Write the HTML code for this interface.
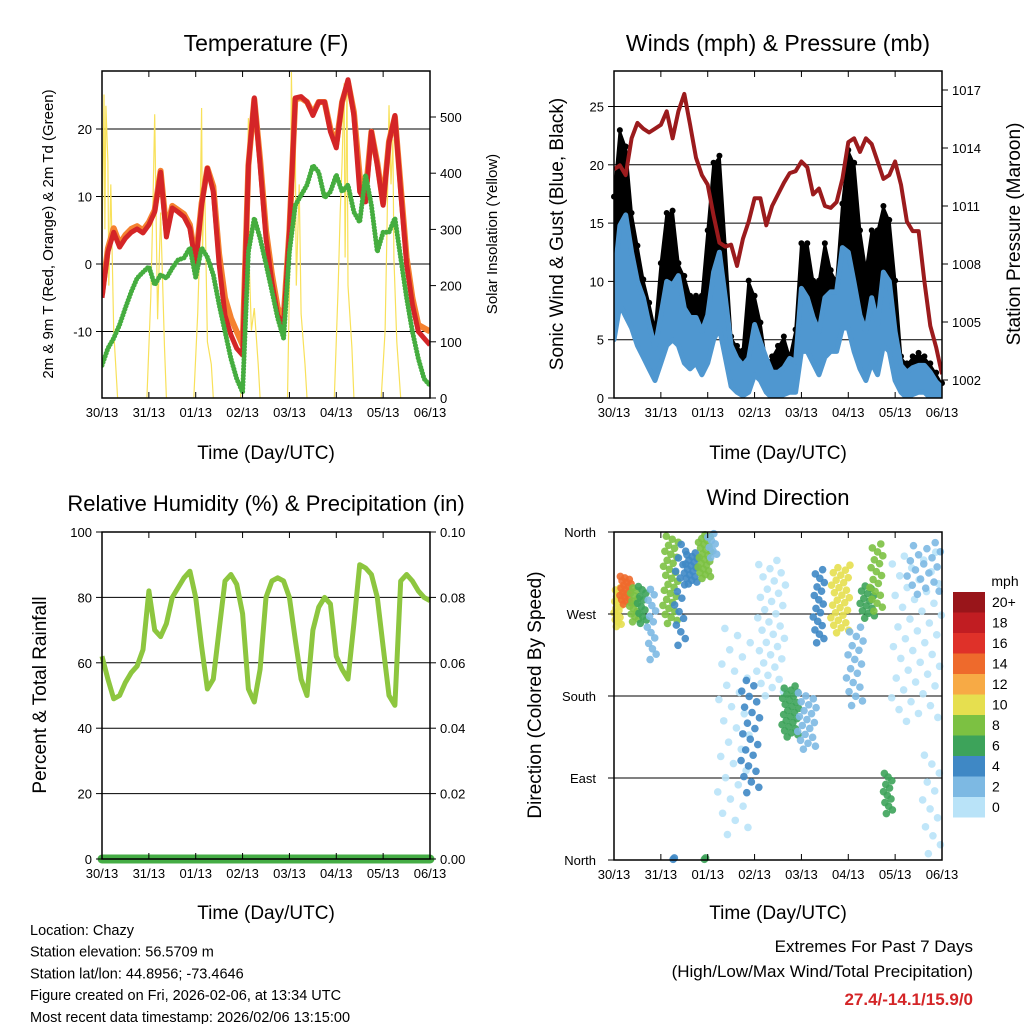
<!DOCTYPE html>
<html><head><meta charset="utf-8"><style>
html,body{margin:0;padding:0;background:#fff}
svg{display:block;font-family:"Liberation Sans",sans-serif}
</style></head><body>
<svg id="s" width="1024" height="1024" viewBox="0 0 1024 1024"></svg>
<script>
// ---------- DATA (hours since 30/13 UTC, 3-hour steps) ----------
const hours = [];for(let i=0;i<=56;i++)hours.push(i*3);
const dayLabels = ["30/13","31/13","01/13","02/13","03/13","04/13","05/13","06/13"];
const tempRed = [-5,1.8,4.7,2.5,3.8,4.7,5.2,4.6,5.8,7.7,13.6,4,8.3,7.7,7,5.3,-0.1,8.7,14.2,10.7,0,-7.6,-10.5,-12.5,-13.5,14.6,24.6,14.6,3.8,-2.7,-7.6,-9,4.7,24.6,24.8,24,22,24,24,19.6,17.2,24,27.3,22,10.7,9.2,19.6,14.6,8.7,18,22,10.7,0,-6,-10,-11,-12];
const tempOrange = [-4.5,2.3,5.3,3,4.3,5.2,5.6,5,6.2,8,13.8,5,8.6,8,7.4,5.8,0.5,9,14.2,11.5,1.5,-5,-8,-10,-12,14.6,24.4,15.5,5,-1.5,-6.5,-8,5,24.4,24.6,24,22.3,24,24,20,17.8,24,27,22.5,13,10.5,19.6,15,9,18.2,21.8,11.5,1,-5,-9,-9.5,-10];
const dewGreen = [-15,-12.5,-11,-9,-6.5,-4.1,-2.1,-1.2,-0.4,-3.1,-1.6,-2.1,-0.6,0.6,0.9,2.4,-2,2.4,1,-1.6,-6,-10,-14,-17,-19,1.8,6.8,3.8,0,-4,-8,-11,1.8,8.7,10.2,11.7,14.6,13.6,9.8,10.7,13.2,10.7,11.7,7.7,6.2,13.2,8.7,1.8,4.7,4.7,6.8,0.9,-5,-10,-14,-17,-18];
const solarT = [-1,1,1.5,2,3,3.5,4.5,6,8,23,25,26,27,28,28.5,30,32,33,47,49,50,51,51.5,52.5,54,56,57,71,73,74,75,75.5,76.5,78,80,81,95,96.5,97,98,99,99.5,101,102,104,105,119,121,122,123,124,124.5,125.5,126,128,129,143,145,146,147,148,149,149.5,151,153];
const solarV = [0,540,300,520,420,200,380,120,0,0,180,330,505,250,140,330,90,0,0,150,260,516,260,400,100,60,0,0,120,300,498,230,120,160,60,0,0,300,580,350,450,200,380,150,60,0,0,200,330,420,560,250,569,200,90,0,0,120,300,521,380,460,250,100,0];
const windHi = [9.9,14.8,15.7,12.5,10,8.6,6.3,4.3,7.1,10,9.7,10.5,7.7,6.9,6.9,5.7,7.1,10.8,12.5,8.6,4.5,3.4,2.8,3.4,6.3,4.8,3.4,2.2,2.2,2.6,3.4,3.1,9.4,8.6,6.9,5.7,8.6,9.1,9.1,12.9,12.5,9.9,7.1,5.7,8.6,6.3,10.8,10,5.7,2.8,2.2,2.6,2.8,2.8,2.2,1.4,0.9];
const windLo = [5,8,7,6,4.5,3.5,2.5,1.5,3,4.5,5,4.5,3,2.5,3,2,3,5,6,3.5,1,0.5,0.2,0.5,2,1.5,0.5,0,0,0.3,0.5,0.5,4,4,3,2,3.5,4,4,6,6,4,2.5,1.5,3,2,4.5,4,1.5,0.5,0,0.3,0.5,0.5,0,0,0];
const gustHi = [17.1,22.8,21.4,15.7,12.9,10,8,5.7,11.4,15.7,15.9,11.4,10.3,8.6,8.6,8.6,14.2,20,20.6,12.9,5.1,4.3,3.9,9.9,8.6,6.3,2.8,3.4,4.3,5.1,3.4,5.7,13.1,13.1,9.9,9.9,13.1,10.8,9.9,16.5,21.1,20,14.2,10.8,14.2,14.2,16.3,15.1,9.9,3.4,2.8,3.4,3.7,3.4,2.8,2,1.1];
const pressure = [1012.9,1013.1,1012.6,1014.5,1015.3,1015,1014.8,1015,1015.2,1015.9,1014.5,1015.9,1016.8,1015.2,1013.5,1012.6,1012.1,1010.5,1009.1,1008.9,1009,1007.9,1009.3,1010.2,1011.4,1011.4,1010,1011,1011.6,1012.2,1012.7,1012.8,1013.3,1013,1011.6,1011.9,1011,1010.9,1011.2,1012.4,1014.3,1014.5,1013.8,1014.5,1014.2,1013.3,1012.4,1012.6,1013.3,1012.1,1010.2,1009.7,1009.7,1007.1,1004.8,1003.7,1002.3];
const rh = [62,55,49,50,54,57,59,64,82,70,68,72,80,83,86,88,80,65,52,55,70,85,87,84,75,52,48,58,80,85,86,85,80,67,55,50,70,77,80,78,62,58,55,72,90,89,87,80,65,50,47,85,87,85,82,80,79];
const precip = [0,0,0,0,0,0,0,0,0,0,0,0,0,0,0,0,0,0,0,0,0,0,0,0,0,0,0,0,0,0,0,0,0,0,0,0,0,0,0,0,0,0,0,0,0,0,0,0,0,0,0,0,0,0,0,0,0];
// wind direction clusters: start hour, end hour, low deg, high deg, speed (mph), dots
const dirT0 = [0,3,8,12,17,25,31,36,43,48,53,65,73,86,94,102,111,119,126,131,138,142,150,158,30,46];
const dirT1 = [4,9,13,17,22,33,37,43,50,53,70,75,88,95,104,108,121,128,134,138,143,168,168,168,31,47];
const dirLo = [255,280,260,258,217,258,232,302,308,330,24,71,178,134,120,236,248,167,264,271,49,150,290,2,0,0];
const dirHi = [300,312,300,302,300,357,350,338,358,360,258,200,331,192,185,321,325,258,302,349,97,340,350,120,3,3];
const dirSpd = [10,14,9,6,3,8,4,4,9,2,1,4,1,7,3,5,11,3,7,9,6,1,3,1,4,7];
const dirN = [18,20,14,12,14,30,16,18,24,8,30,22,34,26,20,18,28,18,14,18,12,44,18,12,2,2];
const speedBins = ["0","2","4","6","8","10","12","14","16","18","20+"];
const binColors = ["#b9e3f8","#7db9e3","#3f88c5","#3da35a","#7cc142","#e6df4f","#f7aa45","#ee6a2c","#df3129","#c11d22","#99151a"];

// ---------- helpers ----------
const S=document.getElementById('s'),NS='http://www.w3.org/2000/svg';
function el(tag,attrs,parent,text){const e=document.createElementNS(NS,tag);for(const k in attrs)e.setAttribute(k,attrs[k]);if(text!==undefined)e.textContent=text;(parent||S).appendChild(e);return e;}
function txt(x,y,s,size,opt,name){opt=opt||{};const a={x:x,y:y,'font-size':size,'text-anchor':opt.anchor||'middle',fill:opt.fill||'#000'};if(opt.rot)a.transform='rotate('+opt.rot+' '+x+' '+y+')';if(opt.bold)a['font-weight']='bold';const t=el('text',a,opt.g,s);return t;}
function lin(d0,d1,r0,r1){return v=>r0+(v-d0)*(r1-r0)/(d1-d0);}
function pathFrom(xs,ys,fx,fy){return xs.map((v,i)=>(i?'L':'M')+fx(v).toFixed(1)+' '+fy(ys[i]).toFixed(1)).join(' ');}
function frame(x0,y0,x1,y1,name){const g=el('g',{});return g;}
function xAxis(g,x0,x1,y0,y1,sx){
 dayLabels.forEach((d,i)=>{const x=sx(i*24);
  el('line',{x1:x,x2:x,y1:y1,y2:y1-6,stroke:'#000','stroke-width':1},g);
  el('line',{x1:x,x2:x,y1:y0,y2:y0+6,stroke:'#000','stroke-width':1},g);
  txt(x,y1+19,d,13,{g:g},'x-tick-label');});
}
function hgrid(g,x0,x1,ys){ys.forEach(y=>el('line',{x1:x0,x2:x1,y1:y,y2:y,stroke:'#000','stroke-width':1},g));}
function box(g,x0,y0,x1,y1){const r=el('rect',{x:x0,y:y0,width:x1-x0,height:y1-y0,fill:'none',stroke:'#000','stroke-width':1.5},g);}

// ---------- Panel 1: Temperature ----------
(function(){
 const X0=102,X1=430,Y0=71,Y1=398;
 const sx=lin(0,168,X0,X1), sy=lin(0,10,264,196.5), ss=lin(0,100,398,341.8);
 const g=frame(X0,Y0,X1,Y1,'temperature-panel');
 const cp=el('clipPath',{id:'c1'},g);el('rect',{x:X0,y:Y0,width:X1-X0,height:Y1-Y0},cp);
 hgrid(g,X0,X1,[-10,0,10,20].map(sy));
 const sol=el('path',{d:pathFrom(solarT,solarV,sx,ss),fill:'none',stroke:'#f8e15a','stroke-width':1.2,'clip-path':'url(#c1)'},g);
 
 const o=el('path',{d:pathFrom(hours,tempOrange,sx,sy),fill:'none',stroke:'#f58230','stroke-width':6,'stroke-linejoin':'round','clip-path':'url(#c1)'},g);
 
 const r=el('path',{d:pathFrom(hours,tempRed,sx,sy),fill:'none',stroke:'#d42527','stroke-width':5,'stroke-linejoin':'round','clip-path':'url(#c1)'},g);
 
 const d=el('path',{d:pathFrom(hours,dewGreen,sx,sy),fill:'none',stroke:'#45ad3f','stroke-width':5,'stroke-linecap':'round','stroke-dasharray':'0 3.2','clip-path':'url(#c1)'},g);
 
 box(g,X0,Y0,X1,Y1);
 xAxis(g,X0,X1,Y0,Y1,sx);
 [-10,0,10,20].forEach(v=>{el('line',{x1:X0,x2:X0-6,y1:sy(v),y2:sy(v),stroke:'#000'},g);txt(X0-10,sy(v)+5,String(v),13,{g:g,anchor:'end'},'y-tick-label');});
 [0,100,200,300,400,500].forEach(v=>{el('line',{x1:X1,x2:X1+6,y1:ss(v),y2:ss(v),stroke:'#000'},g);txt(X1+10,ss(v)+5,String(v),13,{g:g,anchor:'start'},'y2-tick-label');});
 txt(266,51,'Temperature (F)',23,{g:g},'temperature-title');
 txt(266,459,'Time (Day/UTC)',19,{g:g},'x-axis-title');
 txt(53,234,'2m & 9m T (Red, Orange) & 2m Td (Green)',15,{g:g,rot:-90},'y-axis-title');
 txt(497,234,'Solar Insolation (Yellow)',15,{g:g,rot:-90},'y2-axis-title');
})();

// ---------- Panel 2: Winds & Pressure ----------
(function(){
 const X0=614,X1=942,Y0=71,Y1=398;
 const sx=lin(0,168,X0,X1), sy=lin(0,5,398,339.7), sp=lin(1002,1005,380,322);
 const g=frame(X0,Y0,X1,Y1,'winds-panel');
 const cp=el('clipPath',{id:'c2'},g);el('rect',{x:X0,y:Y0,width:X1-X0,height:Y1-Y0},cp);
 hgrid(g,X0,X1,[5,10,15,20,25].map(sy));
 const gp=pathFrom(hours,gustHi,sx,sy)+' '+hours.slice().reverse().map((h,i)=>'L'+sx(h).toFixed(1)+' '+sy(windHi[hours.length-1-i]).toFixed(1)).join(' ')+'Z';
 const gc=el('path',{d:gp,fill:'#000',stroke:'#000','stroke-width':3,'stroke-linejoin':'round','clip-path':'url(#c2)'},g);
 
 hours.forEach((h,i)=>{const c=el('circle',{cx:sx(h),cy:sy(gustHi[i])-2,r:3,fill:'#000'},g);
  });
 const wp=pathFrom(hours,windHi,sx,sy)+' '+hours.slice().reverse().map((h,i)=>'L'+sx(h).toFixed(1)+' '+sy(windLo[hours.length-1-i]).toFixed(1)).join(' ')+'Z';
 const wc=el('path',{d:wp,fill:'#4f97d0',stroke:'#4f97d0','stroke-width':5,'stroke-linejoin':'round','clip-path':'url(#c2)'},g);
 
 const pl=el('path',{d:pathFrom(hours,pressure,sx,sp),fill:'none',stroke:'#9b1b1d','stroke-width':4,'stroke-linejoin':'round','clip-path':'url(#c2)'},g);
 
 box(g,X0,Y0,X1,Y1);
 xAxis(g,X0,X1,Y0,Y1,sx);
 [0,5,10,15,20,25].forEach(v=>{el('line',{x1:X0,x2:X0-6,y1:sy(v),y2:sy(v),stroke:'#000'},g);txt(X0-10,sy(v)+5,String(v),13,{g:g,anchor:'end'},'y-tick-label');});
 [1002,1005,1008,1011,1014,1017].forEach(v=>{el('line',{x1:X1,x2:X1+6,y1:sp(v),y2:sp(v),stroke:'#000'},g);txt(X1+10,sp(v)+5,String(v),13,{g:g,anchor:'start'},'y2-tick-label');});
 txt(778,51,'Winds (mph) & Pressure (mb)',23,{g:g},'winds-title');
 txt(778,459,'Time (Day/UTC)',19,{g:g},'x-axis-title');
 txt(563,234,'Sonic Wind & Gust (Blue, Black)',19,{g:g,rot:-90},'y-axis-title');
 txt(1020,234,'Station Pressure (Maroon)',19,{g:g,rot:-90},'y2-axis-title');
})();

// ---------- Panel 3: RH & Precip ----------
(function(){
 const X0=102,X1=430,Y0=532,Y1=859;
 const sx=lin(0,168,X0,X1), sy=lin(0,100,Y1,Y0), sq=lin(0,0.1,Y1,Y0);
 const g=frame(X0,Y0,X1,Y1,'humidity-panel');
 hgrid(g,X0,X1,[20,40,60,80].map(sy));
 const r=el('path',{d:pathFrom(hours,rh,sx,sy),fill:'none',stroke:'#8dc63f','stroke-width':5,'stroke-linejoin':'round'},g);
 
 const p=el('path',{d:pathFrom(hours,precip,sx,sq),fill:'none',stroke:'#45ad45','stroke-width':9,'stroke-linecap':'round'},g);
 
 box(g,X0,Y0,X1,Y1);
 xAxis(g,X0,X1,Y0,Y1,sx);
 [0,20,40,60,80,100].forEach(v=>{el('line',{x1:X0,x2:X0-6,y1:sy(v),y2:sy(v),stroke:'#000'},g);txt(X0-10,sy(v)+5,String(v),13,{g:g,anchor:'end'},'y-tick-label');});
 [0,0.02,0.04,0.06,0.08,0.1].forEach(v=>{el('line',{x1:X1,x2:X1+6,y1:sq(v),y2:sq(v),stroke:'#000'},g);txt(X1+10,sq(v)+5,v.toFixed(2),13,{g:g,anchor:'start'},'y2-tick-label');});
 txt(266,511,'Relative Humidity (%) & Precipitation (in)',22,{g:g},'humidity-title');
 txt(266,919,'Time (Day/UTC)',19,{g:g},'x-axis-title');
 txt(46,695,'Percent & Total Rainfall',19,{g:g,rot:-90},'y-axis-title');
})();

// ---------- Panel 4: Wind direction ----------
(function(){
 const X0=614,X1=942,Y0=532,Y1=860;
 const sx=lin(0,168,X0,X1), sy=lin(0,360,Y1,Y0);
 const g=frame(X0,Y0,X1,Y1,'wind-direction-panel');
 hgrid(g,X0,X1,[90,180,270].map(sy));
 function binOf(s){return Math.min(10,Math.floor(s/2));}
 dirT0.forEach((t0,k)=>{
  const n=dirN[k];
  for(let i=0;i<n;i++){
   const ft=(i*0.6180339+0.3)%1, fd=(i+0.5)/n;
   const t=t0+(dirT1[k]-t0)*ft;
   const d=dirLo[k]+(dirHi[k]-dirLo[k])*fd;
   const ci=el('circle',{cx:sx(t),cy:sy(d),r:3.8,fill:binColors[binOf(dirSpd[k])],'fill-opacity':0.9},g);
   
  }
 });
 box(g,X0,Y0,X1,Y1);
 xAxis(g,X0,X1,Y0,Y1,sx);
 const names=['North','East','South','West','North'];
 [0,90,180,270,360].forEach((v,i)=>{el('line',{x1:X0,x2:X0-6,y1:sy(v),y2:sy(v),stroke:'#000'},g);txt(X0-18,sy(v)+5,names[i],13,{g:g,anchor:'end'},'y-tick-label');});
 txt(778,505,'Wind Direction',22,{g:g},'wind-direction-title');
 txt(778,919,'Time (Day/UTC)',19,{g:g},'x-axis-title');
 txt(541,695,'Direction (Colored By Speed)',19,{g:g,rot:-90},'y-axis-title');
 const lg=el('g',{},S);
 txt(1005,586,'mph',14,{g:lg},'legend-title');
 for(let i=10;i>=0;i--){const y=592+(10-i)*20.5;
  const b=el('rect',{x:953,y:y,width:32,height:20.5,fill:binColors[i]},lg);
  
  txt(992,y+15,speedBins[i],14,{g:lg,anchor:'start'},'legend-label');}
})();

// ---------- footer text ----------
const info=['Location: Chazy','Station elevation: 56.5709 m','Station lat/lon: 44.8956; -73.4646','Figure created on Fri, 2026-02-06, at 13:34 UTC','Most recent data timestamp: 2026/02/06 13:15:00'];
info.forEach((s,i)=>txt(30,935+i*21.7,s,14.5,{anchor:'start'},'station-info-line'));
txt(973,952,'Extremes For Past 7 Days',17,{anchor:'end'},'extremes-title');
txt(973,977,'(High/Low/Max Wind/Total Precipitation)',17,{anchor:'end'},'extremes-subtitle');
txt(973,1005,'27.4/-14.1/15.9/0',17,{anchor:'end',fill:'#d42527',bold:true},'extremes-values');
</script>
</body></html>
